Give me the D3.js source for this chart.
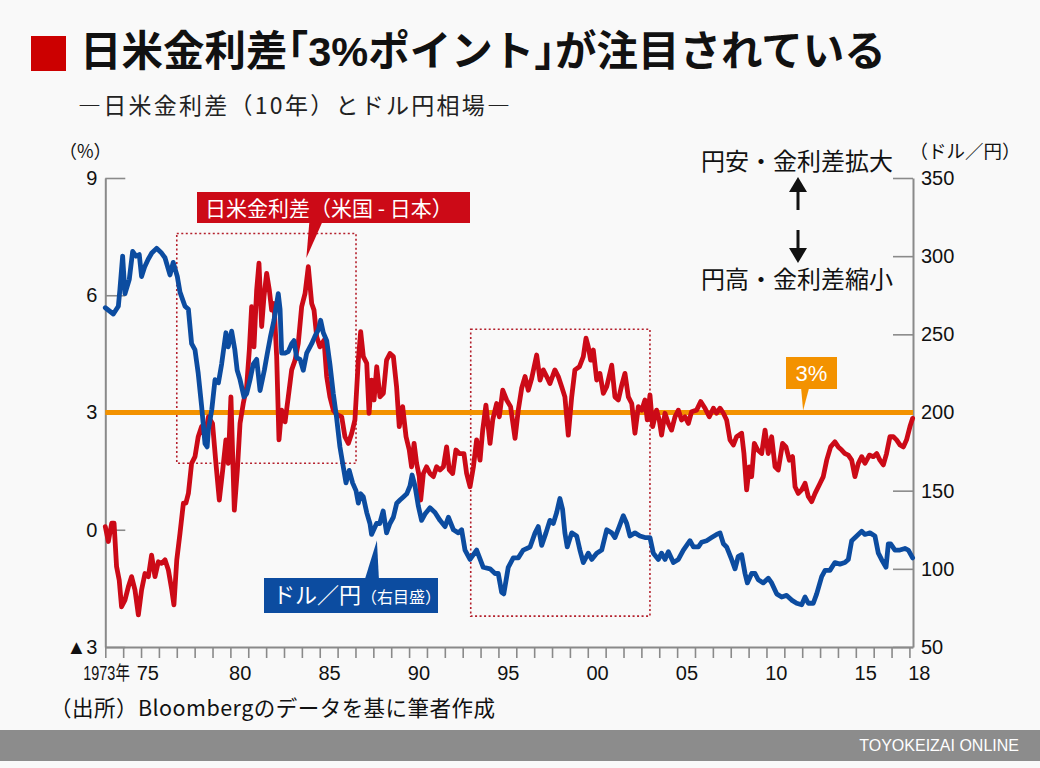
<!DOCTYPE html>
<html><head><meta charset="utf-8">
<script src="https://cdn.jsdelivr.net/npm/d3@7"></script>
<style>
html,body{margin:0;padding:0;background:#f9f9f9;}
svg{display:block;font-family:"Liberation Sans","Noto Sans CJK JP",sans-serif;}
.jp{font-family:"Noto Sans CJK JP",sans-serif;}
.half{font-feature-settings:"halt" 1;}
</style></head><body>
<svg id="c" width="1040" height="768"></svg>
<script>
// ---- data ----
const spreadYears=[1973.0,1973.17,1973.36,1973.49,1973.63,1973.78,1973.91,1974.1,1974.29,1974.47,1974.66,1974.85,1975.03,1975.22,1975.41,1975.59,1975.78,1975.97,1976.15,1976.34,1976.53,1976.72,1976.84,1977.0,1977.18,1977.37,1977.51,1977.65,1977.83,1978.02,1978.2,1978.39,1978.58,1978.77,1979.0,1979.19,1979.38,1979.57,1979.75,1979.88,1980.03,1980.22,1980.39,1980.54,1980.72,1980.91,1981.06,1981.19,1981.32,1981.47,1981.6,1981.75,1981.88,1982.03,1982.18,1982.31,1982.44,1982.59,1982.72,1982.87,1983.06,1983.24,1983.43,1983.62,1983.8,1983.99,1984.18,1984.36,1984.55,1984.68,1984.83,1985.01,1985.24,1985.39,1985.57,1985.76,1985.95,1986.23,1986.41,1986.6,1986.79,1986.97,1987.16,1987.29,1987.44,1987.63,1987.76,1987.9,1988.04,1988.19,1988.37,1988.56,1988.74,1988.93,1989.12,1989.3,1989.45,1989.64,1989.83,1990.01,1990.14,1990.28,1990.42,1990.57,1990.65,1990.8,1990.98,1991.17,1991.36,1991.54,1991.73,1991.92,1992.1,1992.25,1992.44,1992.62,1992.81,1993.07,1993.22,1993.41,1993.6,1993.78,1993.97,1994.12,1994.3,1994.53,1994.68,1994.9,1995.05,1995.24,1995.46,1995.68,1995.93,1996.11,1996.3,1996.49,1996.67,1996.86,1997.14,1997.33,1997.51,1997.7,1997.88,1998.16,1998.35,1998.54,1998.72,1998.91,1999.1,1999.28,1999.53,1999.75,1999.9,2000.03,2000.16,2000.31,2000.5,2000.68,2000.87,2001.06,2001.34,2001.52,2001.71,2001.9,2002.08,2002.27,2002.46,2002.64,2002.83,2003.02,2003.2,2003.33,2003.48,2003.63,2003.85,2004.0,2004.13,2004.32,2004.51,2004.69,2004.88,2005.07,2005.25,2005.44,2005.63,2005.81,2006.09,2006.32,2006.56,2006.8,2007.03,2007.21,2007.4,2007.59,2007.77,2007.96,2008.15,2008.33,2008.61,2008.74,2008.89,2009.04,2009.17,2009.32,2009.51,2009.73,2009.92,2010.1,2010.29,2010.48,2010.66,2010.9,2011.09,2011.28,2011.46,2011.6,2011.78,2011.97,2012.16,2012.34,2012.53,2012.72,2013.0,2013.18,2013.37,2013.59,2013.83,2014.02,2014.21,2014.39,2014.58,2014.77,2014.95,2015.14,2015.33,2015.51,2015.76,2015.98,2016.17,2016.35,2016.54,2016.72,2016.91,2017.1,2017.28,2017.47,2017.66,2017.84,2018.03,2018.18];
const spreadValues=[0.08,-0.3,0.17,0.17,-0.94,-1.29,-1.97,-1.8,-1.46,-1.2,-1.54,-2.18,-1.54,-1.12,-1.2,-0.65,-1.2,-0.82,-0.86,-0.77,-1.03,-1.54,-1.92,-0.77,-0.09,0.68,0.68,0.93,1.7,1.87,2.38,2.64,2.38,2.89,2.72,1.7,0.76,1.53,2.3,1.7,3.4,0.5,1.53,2.72,3.23,3.66,4.6,5.71,4.68,6.13,6.82,5.2,5.96,6.56,6.13,5.62,5.79,4.43,2.3,3.06,2.76,3.4,4.09,4.34,4.77,5.71,6.05,6.73,5.79,5.62,4.94,4.68,4.85,3.92,3.4,3.06,2.95,2.89,2.38,2.21,2.47,2.81,4.34,5.07,4.43,4.26,2.98,3.83,3.32,4.17,3.4,3.49,4.34,4.51,4.43,3.66,2.64,3.15,2.38,2.04,1.61,2.21,1.7,1.36,0.76,1.44,1.61,1.44,1.36,1.61,1.53,1.61,2.12,1.53,1.44,2.04,1.95,1.95,1.44,1.1,1.61,2.3,1.78,2.55,3.19,2.21,2.81,3.23,2.89,3.57,3.32,3.15,2.34,3.06,3.62,3.92,3.57,3.87,4.47,3.83,4.09,3.92,3.74,4.09,3.92,3.66,3.4,2.42,3.4,4.09,4.17,4.43,4.9,4.68,4.34,4.6,3.83,4.0,3.49,3.66,4.21,3.4,3.32,3.7,4.0,3.4,3.23,2.47,3.15,3.06,3.32,2.81,3.45,2.64,3.06,2.81,2.42,2.98,2.72,2.55,2.89,3.06,2.81,2.89,2.72,3.02,3.06,3.28,3.11,2.89,3.11,2.98,3.11,2.98,2.81,2.3,2.17,2.38,2.47,1.95,1.02,1.61,1.36,2.21,2.04,1.95,2.55,1.95,2.38,1.61,1.53,2.21,2.12,1.78,1.87,1.1,0.93,1.02,1.19,0.85,0.72,0.93,1.19,1.36,1.78,2.12,2.25,2.12,2.04,1.95,1.91,1.78,1.36,1.7,1.87,1.7,1.91,1.87,1.95,1.78,1.66,1.95,2.38,2.38,2.3,2.17,2.12,2.3,2.64,2.85];

const usdjpyYears=[1973.0,1973.45,1973.73,1973.82,1973.97,1974.1,1974.34,1974.53,1974.72,1974.9,1975.03,1975.2,1975.4,1975.6,1975.87,1976.15,1976.34,1976.62,1976.8,1977.03,1977.18,1977.46,1977.65,1977.83,1978.02,1978.2,1978.39,1978.58,1978.7,1978.77,1978.96,1979.14,1979.33,1979.51,1979.75,1979.88,1980.07,1980.25,1980.38,1980.54,1980.76,1980.91,1981.1,1981.28,1981.47,1981.66,1981.9,1982.07,1982.25,1982.44,1982.68,1982.78,1982.87,1983.06,1983.24,1983.43,1983.56,1983.71,1983.9,1984.08,1984.27,1984.55,1984.74,1984.93,1985.05,1985.2,1985.39,1985.57,1985.76,1985.94,1986.13,1986.32,1986.47,1986.65,1986.84,1987.03,1987.16,1987.29,1987.44,1987.63,1987.81,1987.9,1988.18,1988.36,1988.55,1988.74,1988.93,1989.12,1989.31,1989.49,1989.68,1989.87,1990.05,1990.17,1990.33,1990.52,1990.7,1990.89,1991.17,1991.45,1991.73,1992.01,1992.2,1992.48,1992.76,1992.94,1993.13,1993.41,1993.78,1994.15,1994.53,1994.81,1994.99,1995.18,1995.3,1995.55,1995.83,1996.11,1996.39,1996.77,1997.05,1997.23,1997.42,1997.66,1997.88,1998.07,1998.26,1998.44,1998.59,1998.72,1998.85,1999.1,1999.38,1999.56,1999.75,2000.03,2000.22,2000.5,2000.78,2001.06,2001.34,2001.52,2001.76,2001.99,2002.18,2002.36,2002.64,2002.92,2003.2,2003.48,2003.67,2003.95,2004.13,2004.32,2004.51,2004.79,2005.07,2005.35,2005.72,2005.91,2006.19,2006.37,2006.65,2006.93,2007.21,2007.4,2007.59,2007.77,2008.05,2008.24,2008.42,2008.61,2008.8,2008.93,2009.17,2009.36,2009.54,2009.82,2010.1,2010.29,2010.57,2010.85,2011.13,2011.41,2011.69,2011.97,2012.16,2012.34,2012.62,2012.81,2013.09,2013.28,2013.55,2013.83,2014.11,2014.39,2014.58,2014.77,2015.05,2015.33,2015.51,2015.79,2016.07,2016.26,2016.44,2016.69,2016.82,2016.95,2017.19,2017.47,2017.75,2017.94,2018.18];
const usdjpyValues=[267,263,268,279,300,276,285,303,300,301,287,293,298,302,305,302,299,288,296,287,277,268,266,244,240,225,204,180,178,189,202,221,219,231,251,242,252,240,227,221,210,212,221,231,234,214,227,238,249,259,276,266,238,238,239,244,246,235,234,227,238,244,249,253,259,251,246,231,212,197,178,165,155,163,155,150,142,148,146,136,129,122,129,129,137,123,129,133,142,144,146,148,153,160,153,140,131,135,139,136,131,127,133,125,123,125,112,106,112,101,100,97,97,85,84,101,107,107,112,114,123,127,115,123,131,129,136,145,138,123,114,123,121,112,104,110,106,110,112,125,123,120,127,134,129,121,123,121,120,120,110,106,110,106,111,104,106,112,118,114,114,117,118,120,122,123,116,114,106,100,108,109,97,91,97,97,93,91,94,91,84,82,83,80,78,77,82,78,78,84,95,99,99,104,103,104,106,118,121,124,122,123,121,110,106,101,116,116,112,112,113,112,107];

const leftTicks=[9,6,3,0,-3];
const leftTickLabels=["9","6","3","0","▲3"];
const rightTicks=[350,300,250,200,150,100,50];
const yearTicks=d3.range(1973,2019);
const yearLabelYears=[1975,1980,1985,1990,1995,2000,2005,2010,2015,2018];
const yearLabelText=["75","80","85","90","95","00","05","10","15","18"];
const firstYearText="1973年";
const thresholdValue=3;
const thresholdLabel="3%";
const highlightPeriods=[[1977.0,1987.03,7.58,1.70],[1993.45,2003.48,5.13,-2.21]];

// ---- layout ----
const svg=d3.select("#c");
const W=1040,H=768;
const x=d3.scaleLinear().domain([1973,2018.2]).range([105.3,913]);
const yL=d3.scaleLinear().domain([-3,9]).range([647,178]);
const yR=d3.scaleLinear().domain([50,350]).range([647,178]);

const RED="#cc0a17", BLUE="#0c4ca0", ORANGE="#f39200", AXIS="#8a8a8a", TXT="#111";

svg.append("rect").attr("width",W).attr("height",H).attr("fill","#f9f9f9");

// title
svg.append("rect").attr("x",31).attr("y",36).attr("width",35).attr("height",35).attr("fill","#cc0000");
const tt=svg.append("text").attr("class","jp").attr("x",80).attr("y",66).attr("font-size",41.5).attr("font-weight",700).attr("fill",TXT);
tt.append("tspan").text("日米金利差");
tt.append("tspan").attr("class","half").text("「");
tt.append("tspan").attr("font-family","Liberation Sans, sans-serif").text("3%");
tt.append("tspan").text("ポイント");
tt.append("tspan").attr("class","half").text("」");
tt.append("tspan").text("が注目されている");
svg.append("text").attr("class","jp").attr("x",78).attr("y",114).attr("font-size",23).attr("fill","#222")
  .attr("textLength",432).attr("lengthAdjust","spacing")
  .text("―日米金利差（10年）とドル円相場―");

// unit labels
svg.append("text").attr("class","jp").attr("x",59).attr("y",158).attr("font-size",18).attr("fill",TXT).text("（%）");
svg.append("text").attr("class","jp").attr("x",909.5).attr("y",158).attr("font-size",18.5).attr("fill",TXT).text("（ドル／円）");

// direction notes
svg.append("text").attr("class","jp").attr("x",701).attr("y",170).attr("font-size",24).attr("fill",TXT).text("円安・金利差拡大");
svg.append("text").attr("class","jp").attr("x",701).attr("y",288).attr("font-size",24).attr("fill",TXT).text("円高・金利差縮小");
const ax=798;
svg.append("line").attr("x1",ax).attr("x2",ax).attr("y1",210).attr("y2",188).attr("stroke",TXT).attr("stroke-width",3);
svg.append("path").attr("d",`M${ax},177 L${ax-9},192 L${ax+9},192 Z`).attr("fill",TXT);
svg.append("line").attr("x1",ax).attr("x2",ax).attr("y1",230).attr("y2",252).attr("stroke",TXT).attr("stroke-width",3);
svg.append("path").attr("d",`M${ax},263 L${ax-9},248 L${ax+9},248 Z`).attr("fill",TXT);

// axes
const styleAxis=g=>{
  g.selectAll("path.domain").attr("stroke",AXIS).attr("stroke-width",2);
  g.selectAll(".tick line").attr("stroke",AXIS).attr("stroke-width",1.6);
  g.selectAll(".tick text").attr("fill",TXT).attr("font-size",20).attr("font-family","Liberation Sans, Noto Sans CJK JP, sans-serif");
};
svg.append("g").attr("transform","translate(105.3,0)")
  .call(d3.axisLeft(yL).tickValues(leftTicks).tickSizeInner(-20).tickSizeOuter(0).tickPadding(8).tickFormat((d,i)=>leftTickLabels[i]))
  .call(styleAxis);
svg.append("g").attr("transform","translate(913,0)")
  .call(d3.axisRight(yR).tickValues(rightTicks).tickSizeInner(-20).tickSizeOuter(0).tickPadding(8))
  .call(styleAxis);
svg.append("g").attr("transform","translate(0,647)")
  .call(d3.axisBottom(x).tickValues(yearTicks).tickSizeInner(11).tickSizeOuter(0).tickFormat(""))
  .call(styleAxis);

// year labels
svg.append("g").selectAll("text").data(yearLabelYears).join("text")
  .attr("x",(d,i)=>x(d+(i===0?0.38:0.55))).attr("y",680).attr("text-anchor","middle").attr("font-size",20).attr("fill",TXT)
  .text((d,i)=>yearLabelText[i]);
svg.append("text").attr("transform",`translate(${x(1973)-22},680) scale(0.74,1)`).attr("font-size",19.5).attr("fill",TXT)
  .text(firstYearText);

// highlight boxes
svg.append("g").selectAll("rect").data(highlightPeriods).join("rect")
  .attr("x",d=>x(d[0])).attr("y",d=>yL(d[2]))
  .attr("width",d=>x(d[1])-x(d[0])).attr("height",d=>yL(d[3])-yL(d[2]))
  .attr("fill","none").attr("stroke","#b4202c").attr("stroke-width",1.6).attr("stroke-dasharray","2,2.5");

// threshold line
svg.append("line").attr("x1",x(1973)).attr("x2",x(2018.2)).attr("y1",yL(thresholdValue)).attr("y2",yL(thresholdValue))
  .attr("stroke",ORANGE).attr("stroke-width",5);

// series
const spread=spreadYears.map((t,i)=>({t,v:spreadValues[i]}));
const fx=usdjpyYears.map((t,i)=>({t,v:usdjpyValues[i]}));
svg.append("path").datum(spread).attr("fill","none").attr("stroke",RED).attr("stroke-width",4.8)
  .attr("stroke-linejoin","round").attr("stroke-linecap","round")
  .attr("d",d3.line().x(d=>x(d.t)).y(d=>yL(d.v)));
svg.append("path").datum(fx).attr("fill","none").attr("stroke",BLUE).attr("stroke-width",4.8)
  .attr("stroke-linejoin","round").attr("stroke-linecap","round")
  .attr("d",d3.line().x(d=>x(d.t)).y(d=>yR(d.v)));

// callouts
// red
const rtx=x(1984.25), rty=yL(6.95);
svg.append("path").attr("d",`M${rtx+3},222 L${rtx+16},222 L${rtx},${rty} Z`).attr("fill",RED);
svg.append("rect").attr("x",197).attr("y",192).attr("width",273).attr("height",31).attr("fill",RED);
svg.append("text").attr("class","jp").attr("x",205).attr("y",216).attr("font-size",21).attr("fill","#fff")
  .text("日米金利差（米国 - 日本）");
// blue
const btx=x(1988.2), bty=yR(122)+6;
svg.append("path").attr("d",`M${btx-12},579 L${btx+2},579 L${btx},${bty} Z`).attr("fill",BLUE);
svg.append("rect").attr("x",264).attr("y",578).attr("width",174).attr("height",35).attr("fill",BLUE);
const bt=svg.append("text").attr("class","jp").attr("x",273).attr("y",603).attr("fill","#fff");
bt.append("tspan").attr("font-size",22).text("ドル／円");
bt.append("tspan").attr("font-size",16).text("（右目盛）");
// orange
const otx=x(2012.05), oty=yL(thresholdValue)-2;
svg.append("path").attr("d",`M${otx-2},388 L${otx+6},388 L${otx},${oty} Z`).attr("fill",ORANGE);
svg.append("rect").attr("x",786).attr("y",357).attr("width",51).attr("height",32).attr("fill",ORANGE);
svg.append("text").attr("x",811.5).attr("y",381).attr("text-anchor","middle").attr("font-size",22).attr("fill","#fff").text(thresholdLabel);

// source
svg.append("text").attr("class","jp").attr("x",50).attr("y",716).attr("font-size",21.5).attr("fill",TXT)
  .attr("textLength",445).attr("lengthAdjust","spacing")
  .text("（出所）Bloombergのデータを基に筆者作成");

// footer
svg.append("rect").attr("x",0).attr("y",730).attr("width",W).attr("height",31).attr("fill","#8c8c8c");
svg.append("text").attr("x",1019).attr("y",751).attr("text-anchor","end").attr("font-size",16).attr("fill","#fff")
  .text("TOYOKEIZAI ONLINE");
</script>
</body></html>
